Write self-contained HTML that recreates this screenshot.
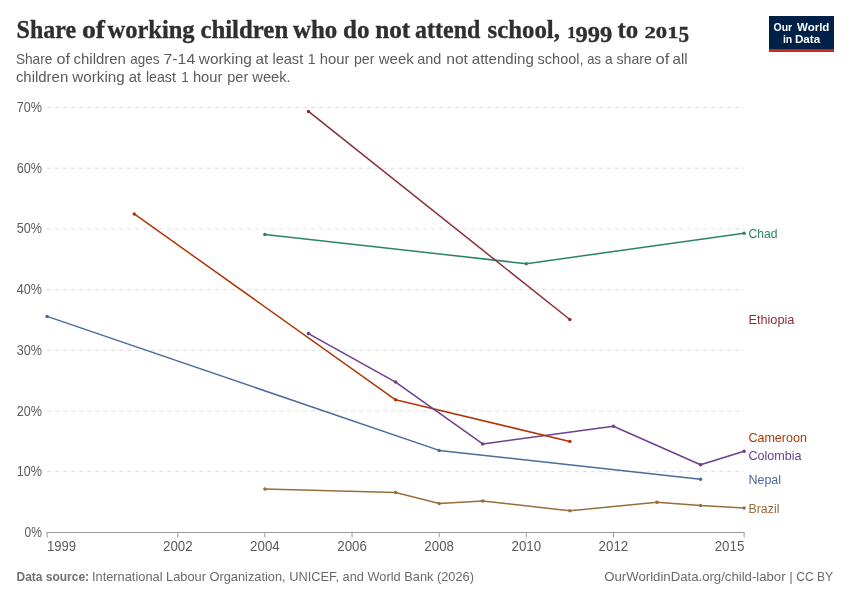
<!DOCTYPE html>
<html lang="en">
<head>
<meta charset="utf-8">
<title>Share of working children who do not attend school, 1999 to 2015</title>
<style>
html,body{margin:0;padding:0;background:#fff;}
body{width:850px;height:600px;overflow:hidden;font-family:"Liberation Sans",sans-serif;}
svg{display:block;}
.title{font-family:"Liberation Serif",serif;font-weight:bold;font-size:26px;fill:#2f2f2f;stroke:#2f2f2f;stroke-width:0.35px;}
.sub{font-family:"Liberation Sans",sans-serif;font-size:15px;fill:#5b5b5b;}
.tick{font-family:"Liberation Sans",sans-serif;font-size:13.9px;fill:#5b5b5b;}
.lab{font-family:"Liberation Sans",sans-serif;font-size:13.5px;}
.foot{font-family:"Liberation Sans",sans-serif;font-size:13.5px;fill:#6a6a6a;}
.grid line{stroke:#dddddd;stroke-width:1;stroke-dasharray:4 4;}
.series polyline{fill:none;stroke-width:1.5;stroke-linejoin:round;stroke-linecap:round;}
</style>
</head>
<body>
<svg width="850" height="600" viewBox="0 0 850 600">
<rect width="850" height="600" fill="#ffffff"/>
<text class="title"><tspan x="16.6" y="38" textLength="59.5" lengthAdjust="spacingAndGlyphs">Share</tspan> <tspan x="81.9" y="38" textLength="23.2" lengthAdjust="spacingAndGlyphs">of</tspan> <tspan x="107.5" y="38" textLength="87.1" lengthAdjust="spacingAndGlyphs">working</tspan> <tspan x="200.4" y="38" textLength="87.8" lengthAdjust="spacingAndGlyphs">children</tspan> <tspan x="293.0" y="38" textLength="44.3" lengthAdjust="spacingAndGlyphs">who</tspan> <tspan x="343.1" y="38" textLength="26.5" lengthAdjust="spacingAndGlyphs">do</tspan> <tspan x="375.2" y="38" textLength="35.1" lengthAdjust="spacingAndGlyphs">not</tspan> <tspan x="415.1" y="38" textLength="65.2" lengthAdjust="spacingAndGlyphs">attend</tspan> <tspan x="487.5" y="38" textLength="72.4" lengthAdjust="spacingAndGlyphs">school,</tspan> <tspan x="567.3" y="38.1" font-size="17.2" textLength="8.5" lengthAdjust="spacingAndGlyphs">1</tspan><tspan x="575.6" y="41.8" font-size="23.8" textLength="36.8" lengthAdjust="spacingAndGlyphs">999</tspan> <tspan x="617.6" y="38" textLength="20.7" lengthAdjust="spacingAndGlyphs">to</tspan> <tspan x="644.5" y="38.1" font-size="17.2" textLength="34" lengthAdjust="spacingAndGlyphs">201</tspan><tspan x="678.4" y="41.8" font-size="23.8" textLength="10.6" lengthAdjust="spacingAndGlyphs">5</tspan></text>
<text class="sub" y="64"><tspan x="15.9" textLength="36.5" lengthAdjust="spacingAndGlyphs">Share</tspan> <tspan x="56.5" textLength="13.5" lengthAdjust="spacingAndGlyphs">of</tspan> <tspan x="73.5" textLength="52.4" lengthAdjust="spacingAndGlyphs">children</tspan> <tspan x="130.2" textLength="29.2" lengthAdjust="spacingAndGlyphs">ages</tspan> <tspan x="163.5" textLength="31.7" lengthAdjust="spacingAndGlyphs">7-14</tspan> <tspan x="198.8" textLength="53.0" lengthAdjust="spacingAndGlyphs">working</tspan> <tspan x="255.5" textLength="12.7" lengthAdjust="spacingAndGlyphs">at</tspan> <tspan x="272.4" textLength="30.8" lengthAdjust="spacingAndGlyphs">least</tspan> <tspan x="307.7" textLength="7.9" lengthAdjust="spacingAndGlyphs">1</tspan> <tspan x="319.7" textLength="29.7" lengthAdjust="spacingAndGlyphs">hour</tspan> <tspan x="354.0" textLength="20.4" lengthAdjust="spacingAndGlyphs">per</tspan> <tspan x="378.8" textLength="35.0" lengthAdjust="spacingAndGlyphs">week</tspan> <tspan x="417.3" textLength="24.1" lengthAdjust="spacingAndGlyphs">and</tspan> <tspan x="446.2" textLength="21.8" lengthAdjust="spacingAndGlyphs">not</tspan> <tspan x="471.8" textLength="62.0" lengthAdjust="spacingAndGlyphs">attending</tspan> <tspan x="537.6" textLength="45.9" lengthAdjust="spacingAndGlyphs">school,</tspan> <tspan x="587.3" textLength="13.6" lengthAdjust="spacingAndGlyphs">as</tspan> <tspan x="605.0" textLength="7.7" lengthAdjust="spacingAndGlyphs">a</tspan> <tspan x="616.5" textLength="35.3" lengthAdjust="spacingAndGlyphs">share</tspan> <tspan x="655.6" textLength="13.8" lengthAdjust="spacingAndGlyphs">of</tspan> <tspan x="672.6" textLength="15.1" lengthAdjust="spacingAndGlyphs">all</tspan></text>
<text class="sub" y="82"><tspan x="15.9" textLength="52.3" lengthAdjust="spacingAndGlyphs">children</tspan> <tspan x="72.3" textLength="52.4" lengthAdjust="spacingAndGlyphs">working</tspan> <tspan x="128.8" textLength="12.4" lengthAdjust="spacingAndGlyphs">at</tspan> <tspan x="145.9" textLength="30.0" lengthAdjust="spacingAndGlyphs">least</tspan> <tspan x="181.2" textLength="7.6" lengthAdjust="spacingAndGlyphs">1</tspan> <tspan x="192.9" textLength="29.5" lengthAdjust="spacingAndGlyphs">hour</tspan> <tspan x="227.3" textLength="20.9" lengthAdjust="spacingAndGlyphs">per</tspan> <tspan x="252.3" textLength="38.3" lengthAdjust="spacingAndGlyphs">week.</tspan></text>

<!-- logo -->
<g>
<rect x="769" y="16" width="65" height="35.7" fill="#002147"/>
<rect x="769" y="49.1" width="65" height="2.6" fill="#ce261e"/>
<text y="30.6" font-family="Liberation Sans, sans-serif" font-weight="bold" font-size="10.9" fill="#fff"><tspan x="773.5" textLength="18.6" lengthAdjust="spacingAndGlyphs">Our</tspan> <tspan x="797.0" textLength="32.4" lengthAdjust="spacingAndGlyphs">World</tspan></text>
<text y="42.6" font-family="Liberation Sans, sans-serif" font-weight="bold" font-size="10.9" fill="#fff"><tspan x="782.9" textLength="9.3" lengthAdjust="spacingAndGlyphs">in</tspan> <tspan x="794.9" textLength="25.3" lengthAdjust="spacingAndGlyphs">Data</tspan></text>
</g>

<!-- grid -->
<g class="grid">
<line x1="47" x2="744" y1="107.5" y2="107.5"/>
<line x1="47" x2="744" y1="168.2" y2="168.2"/>
<line x1="47" x2="744" y1="228.9" y2="228.9"/>
<line x1="47" x2="744" y1="289.6" y2="289.6"/>
<line x1="47" x2="744" y1="350.3" y2="350.3"/>
<line x1="47" x2="744" y1="411.0" y2="411.0"/>
<line x1="47" x2="744" y1="471.7" y2="471.7"/>
</g>
<!-- y tick labels -->
<g class="tick" text-anchor="end">
<text x="42" y="112" textLength="25.2" lengthAdjust="spacingAndGlyphs">70%</text>
<text x="42" y="172.7" textLength="25.2" lengthAdjust="spacingAndGlyphs">60%</text>
<text x="42" y="233.4" textLength="25.2" lengthAdjust="spacingAndGlyphs">50%</text>
<text x="42" y="294.1" textLength="25.2" lengthAdjust="spacingAndGlyphs">40%</text>
<text x="42" y="354.8" textLength="25.2" lengthAdjust="spacingAndGlyphs">30%</text>
<text x="42" y="415.5" textLength="25.2" lengthAdjust="spacingAndGlyphs">20%</text>
<text x="42" y="476.2" textLength="25.2" lengthAdjust="spacingAndGlyphs">10%</text>
<text x="42" y="536.9" textLength="17.4" lengthAdjust="spacingAndGlyphs">0%</text>
</g>
<!-- x axis -->
<line x1="46.6" x2="744.6" y1="532.5" y2="532.5" stroke="#999" stroke-width="1"/>
<g stroke="#999" stroke-width="1">
<line x1="47.1" x2="47.1" y1="532.5" y2="537.5"/>
<line x1="177.79" x2="177.79" y1="532.5" y2="537.5"/>
<line x1="264.91" x2="264.91" y1="532.5" y2="537.5"/>
<line x1="352.04" x2="352.04" y1="532.5" y2="537.5"/>
<line x1="439.16" x2="439.16" y1="532.5" y2="537.5"/>
<line x1="526.29" x2="526.29" y1="532.5" y2="537.5"/>
<line x1="613.41" x2="613.41" y1="532.5" y2="537.5"/>
<line x1="744.1" x2="744.1" y1="532.5" y2="537.5"/>
</g>
<g class="tick">
<text x="47" y="551" textLength="29" lengthAdjust="spacingAndGlyphs">1999</text>
<text x="177.79" y="551" text-anchor="middle" textLength="29.6" lengthAdjust="spacingAndGlyphs">2002</text>
<text x="264.91" y="551" text-anchor="middle" textLength="29.6" lengthAdjust="spacingAndGlyphs">2004</text>
<text x="352.04" y="551" text-anchor="middle" textLength="29.6" lengthAdjust="spacingAndGlyphs">2006</text>
<text x="439.16" y="551" text-anchor="middle" textLength="29.6" lengthAdjust="spacingAndGlyphs">2008</text>
<text x="526.29" y="551" text-anchor="middle" textLength="29.6" lengthAdjust="spacingAndGlyphs">2010</text>
<text x="613.41" y="551" text-anchor="middle" textLength="29.6" lengthAdjust="spacingAndGlyphs">2012</text>
<text x="744.3" y="551" text-anchor="end" textLength="29.6" lengthAdjust="spacingAndGlyphs">2015</text>
</g>

<!-- series -->
<g class="series">
<polyline stroke="#2c8465" points="264.91,234.4 526.29,263.7 744.1,233.25"/>
<polyline stroke="#883039" points="308.48,111.4 569.85,319.5"/>
<polyline stroke="#b13507" points="134.22,213.9 395.6,399.8 569.85,441.4"/>
<polyline stroke="#6d3e91" points="308.48,333.6 395.6,382.1 482.73,443.9 613.41,426.2 700.54,464.7 744.1,451.2"/>
<polyline stroke="#4c6a9c" points="47.1,316.4 439.16,450.4 700.54,479.2"/>
<polyline stroke="#996d39" points="264.91,488.9 395.6,492.4 439.16,503.6 482.73,500.9 569.85,510.8 656.98,502.2 700.54,505.6 744.1,508.0"/>
</g>

<!-- points -->
<g>
<circle cx="308.48" cy="111.4" r="1.75" fill="#883039"/>
<circle cx="569.85" cy="319.5" r="1.75" fill="#883039"/>
<circle cx="264.91" cy="234.4" r="1.75" fill="#2c8465"/>
<circle cx="526.29" cy="263.7" r="1.75" fill="#2c8465"/>
<circle cx="744.1" cy="233.25" r="1.75" fill="#2c8465"/>
<circle cx="134.22" cy="213.9" r="1.75" fill="#b13507"/>
<circle cx="395.6" cy="399.8" r="1.75" fill="#b13507"/>
<circle cx="569.85" cy="441.4" r="1.75" fill="#b13507"/>
<circle cx="308.48" cy="333.6" r="1.75" fill="#6d3e91"/>
<circle cx="395.6" cy="382.1" r="1.75" fill="#6d3e91"/>
<circle cx="482.73" cy="443.9" r="1.75" fill="#6d3e91"/>
<circle cx="613.41" cy="426.2" r="1.75" fill="#6d3e91"/>
<circle cx="700.54" cy="464.7" r="1.75" fill="#6d3e91"/>
<circle cx="744.1" cy="451.2" r="1.75" fill="#6d3e91"/>
<circle cx="47.1" cy="316.4" r="1.75" fill="#4c6a9c"/>
<circle cx="439.16" cy="450.4" r="1.75" fill="#4c6a9c"/>
<circle cx="700.54" cy="479.2" r="1.75" fill="#4c6a9c"/>
<circle cx="264.91" cy="488.9" r="1.75" fill="#996d39"/>
<circle cx="395.6" cy="492.4" r="1.75" fill="#996d39"/>
<circle cx="439.16" cy="503.6" r="1.75" fill="#996d39"/>
<circle cx="482.73" cy="500.9" r="1.75" fill="#996d39"/>
<circle cx="569.85" cy="510.8" r="1.75" fill="#996d39"/>
<circle cx="656.98" cy="502.2" r="1.75" fill="#996d39"/>
<circle cx="700.54" cy="505.6" r="1.75" fill="#996d39"/>
<circle cx="744.1" cy="508.0" r="1.75" fill="#996d39"/>
</g>

<!-- labels -->
<g class="lab">
<text x="748.4" y="238.3" fill="#2c8465" textLength="29" lengthAdjust="spacingAndGlyphs">Chad</text>
<text x="748.4" y="324.3" fill="#883039" textLength="46" lengthAdjust="spacingAndGlyphs">Ethiopia</text>
<text x="748.4" y="442.3" fill="#b13507" textLength="58.5" lengthAdjust="spacingAndGlyphs">Cameroon</text>
<text x="748.4" y="460.3" fill="#6d3e91" textLength="53.2" lengthAdjust="spacingAndGlyphs">Colombia</text>
<text x="748.4" y="484.3" fill="#4c6a9c" textLength="32.7" lengthAdjust="spacingAndGlyphs">Nepal</text>
<text x="748.4" y="512.8" fill="#996d39" textLength="31" lengthAdjust="spacingAndGlyphs">Brazil</text>
</g>

<!-- footer -->
<text class="foot" x="16.5" y="581" font-weight="bold" fill="#707070" style="fill:#707070" textLength="72.6" lengthAdjust="spacingAndGlyphs">Data source:</text>
<text class="foot" x="92" y="581" textLength="382" lengthAdjust="spacingAndGlyphs">International Labour Organization, UNICEF, and World Bank (2026)</text>
<text class="foot" y="581"><tspan x="604.3" textLength="181.3" lengthAdjust="spacingAndGlyphs">OurWorldinData.org/child-labor</tspan> <tspan x="789.2">|</tspan> <tspan x="796.2" textLength="37" lengthAdjust="spacingAndGlyphs">CC BY</tspan></text>
</svg>
</body>
</html>
